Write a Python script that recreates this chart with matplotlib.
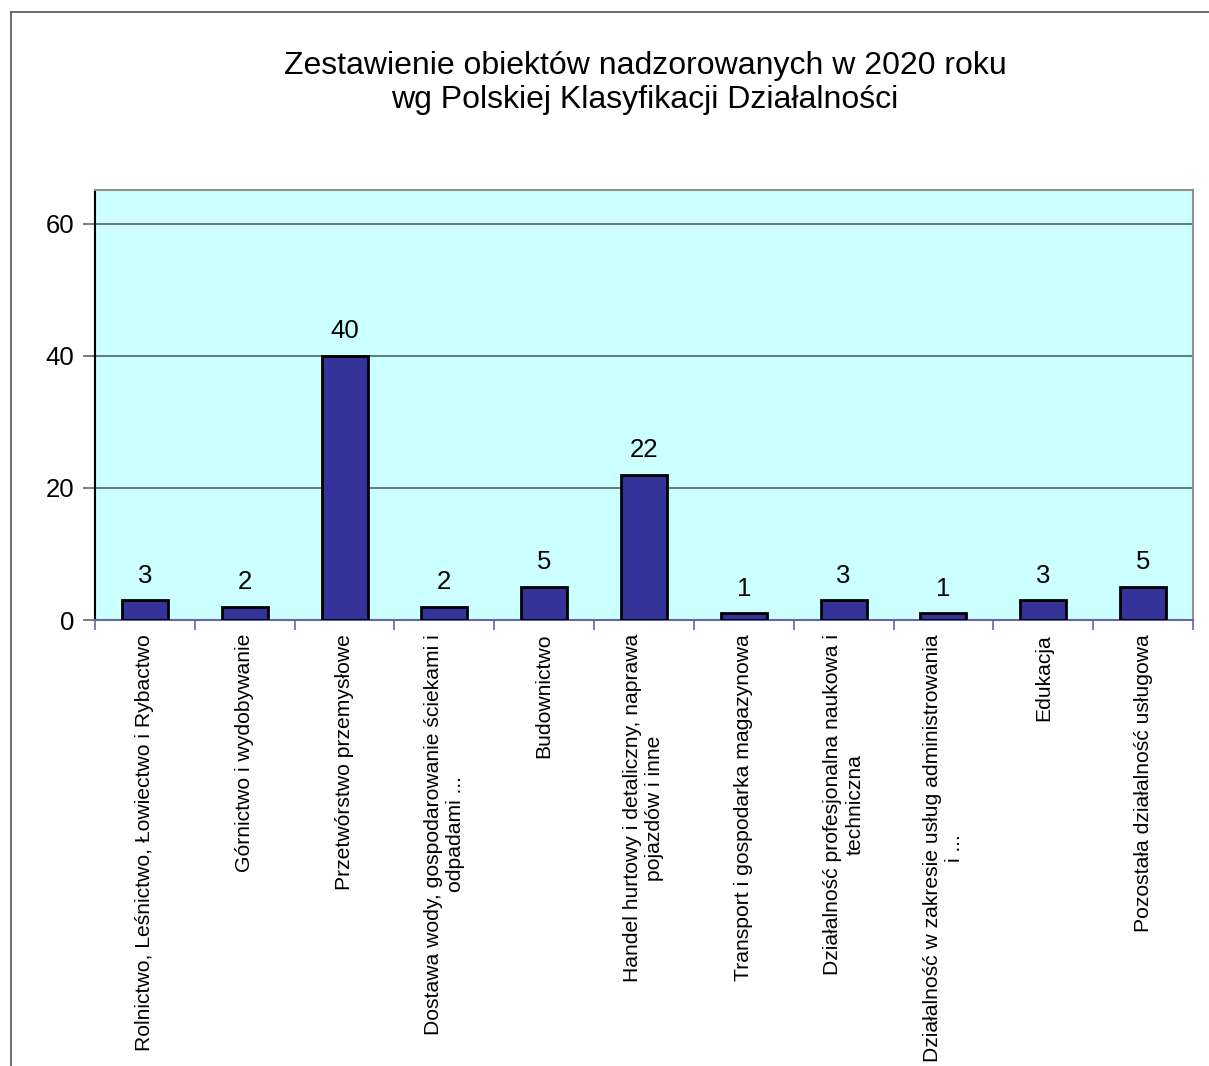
import numpy as np
import matplotlib.pyplot as plt
from matplotlib.lines import Line2D

plt.rcParams['font.family'] = ['Liberation Sans', 'DejaVu Sans']

categories = [
    'Rolnictwo, Leśnictwo, Łowiectwo i Rybactwo',
    'Górnictwo i wydobywanie',
    'Przetwórstwo przemysłowe',
    'Dostawa wody, gospodarowanie ściekami i\nodpadami ...',
    'Budownictwo',
    'Handel hurtowy i detaliczny, naprawa\npojazdów i inne',
    'Transport i gospodarka magazynowa',
    'Działalność profesjonalna naukowa i\ntechniczna',
    'Działalność w zakresie usług administrowania\ni ...',
    'Edukacja',
    'Pozostała działalność usługowa',
]
values = [3, 2, 40, 2, 5, 22, 1, 3, 1, 3, 5]
yticks = [0, 20, 40, 60]

W, H = 1209, 1066
fig = plt.figure(figsize=(W / 100, H / 100), dpi=100)

# outer chart frame (partially visible)
fig.add_artist(Line2D([11 / W, 11 / W], [0, 1 - 12 / H], transform=fig.transFigure,
                      color='#555555', lw=1.2))
fig.add_artist(Line2D([11 / W, 1], [1 - 12 / H, 1 - 12 / H], transform=fig.transFigure,
                      color='#555555', lw=1.2))

ax = fig.add_axes([95 / W, 1 - 620 / H, (1193 - 95) / W, (620 - 190) / H])
ax.set_facecolor('#CCFFFF')

x = np.arange(len(values))
ax.bar(x, values, width=0.46, color='#333399', edgecolor='black', linewidth=2, zorder=3)
for xi, v in zip(x, values):
    ax.annotate(str(v), (xi, v), xytext=(0, 9), textcoords='offset points',
                ha='center', va='bottom', fontsize=18.5)

ax.set_xlim(-0.5, len(values) - 0.5)
ax.set_ylim(0, 65.15)
ax.set_yticks(yticks)
ax.tick_params(axis='y', labelsize=18.5, length=9, color='#666666', width=1.2, pad=6)
ax.yaxis.grid(True, color='#4d6666', lw=1.2, zorder=1)

ax.set_xticks(x)
ax.set_xticklabels(categories, rotation=90, fontsize=15.2, va='top', ha='center',
                   multialignment='center')
ax.tick_params(axis='x', length=0, pad=10)
ax.set_xticks(np.arange(len(values) + 1) - 0.5, minor=True)
ax.tick_params(axis='x', which='minor', length=7, color='#6666aa', width=1.2)

ax.spines['left'].set_color('black')
ax.spines['left'].set_linewidth(1.5)
ax.spines['bottom'].set_color('#6666aa')
ax.spines['bottom'].set_linewidth(1.5)
for s in ['top', 'right']:
    ax.spines[s].set_color('#909090')
    ax.spines[s].set_linewidth(1.5)

fig.text(645 / W, 1 - 83 / H,
         'Zestawienie obiektów nadzorowanych w 2020 roku\nwg Polskiej Klasyfikacji Działalności',
         ha='center', va='center', fontsize=23, linespacing=1.2)

fig.savefig('out.png', dpi=100)
